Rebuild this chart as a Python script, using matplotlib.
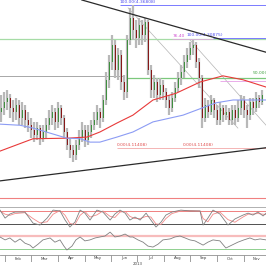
import matplotlib
matplotlib.use('Agg')
import matplotlib.pyplot as plt
from matplotlib.patches import Rectangle

# дневные свечи, цена
opens = [4.178, 4.185, 4.195, 4.203, 4.185, 4.178, 4.190, 4.167, 4.181, 4.163, 4.154, 4.146, 4.137, 4.149, 4.131,
         4.142, 4.154, 4.167, 4.178, 4.160, 4.185, 4.167, 4.142, 4.119, 4.110, 4.101, 4.119, 4.131, 4.146, 4.128,
         4.142, 4.154, 4.163, 4.178, 4.167, 4.199, 4.235, 4.267, 4.297, 4.252, 4.279, 4.231, 4.213, 4.306, 4.345,
         4.324, 4.309, 4.333, 4.315, 4.338, 4.252, 4.217, 4.231, 4.208, 4.226, 4.213, 4.199, 4.185, 4.203, 4.220,
         4.238, 4.249, 4.267, 4.279, 4.292, 4.297, 4.267, 4.238, 4.167, 4.190, 4.178, 4.199, 4.181, 4.163, 4.185,
         4.172, 4.178, 4.163, 4.181, 4.167, 4.185, 4.199, 4.181, 4.172, 4.195, 4.185, 4.203, 4.195]
highs = [4.208, 4.213, 4.217, 4.210, 4.199, 4.203, 4.199, 4.195, 4.190, 4.178, 4.167, 4.160, 4.160, 4.154, 4.154,
         4.167, 4.181, 4.190, 4.185, 4.195, 4.190, 4.172, 4.149, 4.131, 4.119, 4.128, 4.146, 4.160, 4.154, 4.154,
         4.163, 4.178, 4.190, 4.185, 4.208, 4.249, 4.279, 4.315, 4.306, 4.292, 4.288, 4.243, 4.315, 4.363, 4.368,
         4.341, 4.345, 4.341, 4.345, 4.341, 4.261, 4.243, 4.238, 4.238, 4.235, 4.220, 4.208, 4.213, 4.231, 4.249,
         4.261, 4.279, 4.292, 4.302, 4.306, 4.302, 4.274, 4.243, 4.203, 4.199, 4.208, 4.203, 4.190, 4.195, 4.190,
         4.190, 4.185, 4.190, 4.190, 4.199, 4.208, 4.206, 4.190, 4.203, 4.203, 4.213, 4.208, 4.217]
lows = [4.160, 4.172, 4.181, 4.167, 4.160, 4.163, 4.154, 4.154, 4.149, 4.142, 4.131, 4.124, 4.128, 4.119, 4.124,
        4.131, 4.146, 4.154, 4.146, 4.149, 4.154, 4.131, 4.110, 4.096, 4.089, 4.092, 4.110, 4.124, 4.115, 4.119,
        4.131, 4.146, 4.154, 4.149, 4.160, 4.190, 4.220, 4.252, 4.238, 4.235, 4.217, 4.199, 4.203, 4.297, 4.306,
        4.292, 4.297, 4.297, 4.302, 4.243, 4.203, 4.203, 4.195, 4.199, 4.199, 4.185, 4.172, 4.178, 4.195, 4.213,
        4.226, 4.238, 4.256, 4.270, 4.279, 4.256, 4.220, 4.149, 4.160, 4.167, 4.172, 4.167, 4.154, 4.154, 4.160,
        4.163, 4.154, 4.154, 4.154, 4.160, 4.172, 4.167, 4.149, 4.163, 4.172, 4.178, 4.185, 4.190]
closes = [4.185, 4.195, 4.203, 4.185, 4.178, 4.190, 4.167, 4.181, 4.163, 4.154, 4.146, 4.137, 4.149, 4.131, 4.142,
          4.154, 4.167, 4.178, 4.160, 4.185, 4.167, 4.142, 4.119, 4.110, 4.101, 4.119, 4.131, 4.146, 4.128, 4.142,
          4.154, 4.163, 4.178, 4.167, 4.199, 4.235, 4.267, 4.297, 4.252, 4.279, 4.231, 4.213, 4.306, 4.345, 4.324,
          4.309, 4.333, 4.315, 4.338, 4.252, 4.217, 4.231, 4.208, 4.226, 4.213, 4.199, 4.185, 4.203, 4.220, 4.238,
          4.249, 4.267, 4.279, 4.292, 4.297, 4.267, 4.238, 4.167, 4.190, 4.178, 4.199, 4.181, 4.163, 4.185, 4.172,
          4.178, 4.163, 4.181, 4.167, 4.185, 4.199, 4.181, 4.172, 4.195, 4.185, 4.203, 4.195, 4.208]

# скользящие средние (номер свечи, цена)
ma_red_x = [-0.5, 10.5, 21.8, 28.5, 32.8, 38.5, 43.8, 50.5, 58.2, 66.2, 73.8, 80.5, 88.2]
ma_red = [4.108, 4.130, 4.131, 4.133, 4.142, 4.158, 4.172, 4.199, 4.211, 4.231, 4.242, 4.235, 4.222]
ma_blue_x = [-0.5, 6.2, 10.5, 16.2, 21.8, 26.2, 29.5, 32.8, 38.5, 43.8, 50.5, 60.5, 71.5, 77.2, 88.2]
ma_blue = [4.156, 4.154, 4.149, 4.140, 4.131, 4.130, 4.124, 4.124, 4.133, 4.142, 4.160, 4.172, 4.194, 4.199, 4.199]

# уровни Фибоначчи
fib_hi1 = 4.36808
fib_hi2 = 4.30875
fib_lo = 4.11408
fib_764 = 4.3081
fib_50 = 4.24108

# стохастик
st_x = [-0.5, 1.2, 2.8, 4.5, 7.8, 10.5, 12.8, 15.2, 17.2, 19.5, 21.2, 22.8, 24.5, 26.2, 27.8, 29.5, 31.8, 33.8,
        36.2, 37.8, 39.5, 41.2, 42.8, 44.5, 46.2, 48.2, 49.8, 51.5, 53.2, 54.8, 56.8, 59.8, 62.8, 66.2, 67.2, 68.8,
        70.5, 72.8, 75.5, 77.8, 80.5, 82.2, 83.8, 85.5, 87.2, 88.2]
st_k = [84, 47, 66, 75, 75, 24, 15, 47, 84, 80, 38, 6, 29, 84, 70, 38, 84, 75, 38, 66, 84, 70, 38, 52, 38, 70,
        38, 6, 29, 61, 75, 84, 80, 80, 15, 47, 84, 66, 15, 43, 61, 70, 61, 75, 57, 70]
st_d = [80, 65, 60, 68, 72, 45, 25, 30, 65, 82, 60, 22, 18, 60, 78, 52, 62, 80, 55, 50, 75, 78, 55, 45, 45, 55,
        52, 20, 18, 45, 68, 80, 82, 80, 45, 30, 65, 75, 40, 28, 52, 65, 66, 68, 65, 64]

# RSI
rsi_x = [-0.5, 1.2, 2.8, 4.5, 6.2, 7.8, 9.5, 10.5, 12.2, 13.8, 16.2, 17.8, 19.5, 20.8, 21.8, 23.5, 24.8, 26.2,
         27.8, 29.5, 31.2, 32.8, 34.5, 36.2, 37.8, 39.5, 41.2, 42.8, 43.8, 45.5, 47.2, 48.8, 50.5, 52.2, 53.8,
         56.2, 57.8, 59.5, 61.2, 62.8, 64.5, 67.2, 68.8, 70.5, 72.8, 74.8, 76.8, 78.8, 80.8, 82.8, 84.5, 86.2, 88.2]
rsi = [67, 58, 64, 51, 61, 48, 42, 33, 45, 58, 64, 51, 58, 39, 27, 39, 58, 67, 55, 58, 64, 67, 70, 82, 67, 70,
       76, 67, 67, 58, 51, 39, 36, 45, 58, 61, 67, 70, 64, 58, 55, 42, 51, 58, 55, 33, 42, 51, 58, 64, 58, 61, 58]

# месяцы
month_pos = [1.2, 10.0, 18.8, 27.7, 36.5, 45.3, 54.2, 63.0, 71.8, 80.7]
month_names = ['Feb', 'Mar', 'Apr', 'May', 'Jun', 'Jul', 'Aug', 'Sep', 'Oct', 'Nov']
year_label = '2013'

H = 266.0
fig = plt.figure(figsize=(2.66, 2.66), dpi=100)


def add_panel(top, bottom):
    a = fig.add_axes([0, 1 - bottom / H, 1, (bottom - top) / H])
    a.set_xlim(-0.5, 88.17)
    a.axis('off')
    return a


ax = add_panel(0, 202)
ax.set_ylim(4.0174, 4.377)

# свечи
for i in range(len(closes)):
    ax.vlines(i, lows[i], highs[i], color='#b8b8b8', lw=1.6, zorder=3)
    up = closes[i] >= opens[i]
    b0 = min(opens[i], closes[i])
    b1 = max(opens[i], closes[i])
    ax.add_patch(Rectangle((i - 0.2, b0), 0.4, max(b1 - b0, 0.001),
                           facecolor='#3f8f3f' if up else '#871818', edgecolor='none', zorder=4))

ax.plot(ma_red_x, ma_red, color='#e83a3a', lw=0.8, zorder=5)
ax.plot(ma_blue_x, ma_blue, color='#8c9cf4', lw=0.8, zorder=5)

# трендовые линии
ax.plot([26.8, 88.2], [4.377, 4.284], color='#2a2a2a', lw=0.9, zorder=6)
ax.plot([-0.5, 88.2], [4.055, 4.114], color='#2a2a2a', lw=0.9, zorder=6)
ax.plot([42.2, 78.8], [4.363, 4.149], color='#b4b4b4', lw=0.5, zorder=2)
ax.plot([62.8, 88.2], [4.306, 4.154], color='#b4b4b4', lw=0.5, zorder=2)

# горизонтальные уровни
ax.hlines(fib_hi1, 39.5, 89, color='#7a7aff', lw=0.7, zorder=2)
ax.hlines(fib_764, -1, 89, color='#a6dca6', lw=0.9, zorder=2)
ax.hlines(fib_764, 57, 70.5, color='#e6a0e6', lw=0.5, zorder=2)
ax.hlines(fib_hi2, 70.5, 89, color='#7a7aff', lw=0.7, zorder=2)
ax.hlines(4.242, -1, 41, color='#a8a8a8', lw=0.7, zorder=2)
ax.hlines(4.239, 42, 89, color='#7cc87c', lw=0.9, zorder=2)
ax.hlines(4.233, 73, 89, color='#e6a0e6', lw=0.6, zorder=2)
ax.hlines(fib_lo, 38.5, 89, color='#f4b4b4', lw=0.7, zorder=2)
ax.hlines(4.0246, -1, 89, color='#f08080', lw=0.8, zorder=2)

fs = 3.2
ax.text(39.5, fib_hi1 + 0.002, '100.00(%.5f)' % fib_hi1, color='#5050f0', fontsize=fs, va='bottom')
ax.text(57.2, fib_764 + 0.002, '76.40', color='#d050d0', fontsize=fs, va='bottom')
ax.text(61.8, fib_hi2 + 0.002, '100.00(%.5f)' % fib_hi2, color='#5050f0', fontsize=fs, va='bottom')
ax.text(83.8, fib_50 + 0.002, '50.00(%.5f)' % fib_50, color='#40a040', fontsize=fs, va='bottom')
ax.text(38.5, fib_lo + 0.002, '0.00(%.5f)' % fib_lo, color='#e05050', fontsize=fs, va='bottom')
ax.text(60.5, fib_lo + 0.002, '0.00(%.5f)' % fib_lo, color='#e05050', fontsize=fs, va='bottom')

# стохастик
axs = add_panel(205, 229)
axs.set_ylim(-3.2, 107.5)
axs.axhline(100, color='#b0b0b0', lw=0.7)
axs.axhline(80, color='#f08080', lw=0.7)
axs.axhline(20, color='#505050', lw=0.7)
axs.plot(st_x, st_d, color='#f08a8a', lw=0.6)
axs.plot(st_x, st_k, color='#808080', lw=0.6)

# RSI
axr = add_panel(230, 253)
axr.set_ylim(17.7, 88.5)
axr.axhline(70, color='#f7bcbc', lw=1.6)
axr.axhline(30, color='#8fd08f', lw=0.7)
axr.plot(rsi_x, rsi, color='#808080', lw=0.6)

# ось дат
axt = add_panel(255, 262)
axt.set_ylim(0, 1)
axt.axhline(1, color='#909090', lw=0.6)
axt.axhline(0, color='#909090', lw=0.6)
for k, m in enumerate(month_pos):
    axt.vlines(m, 0, 1, color='#909090', lw=0.6)
    nxt = month_pos[k + 1] if k + 1 < len(month_pos) else m + 8.8
    axt.text((m + nxt) / 2, 0.5, month_names[k], fontsize=2.8, ha='center', va='center', color='#404040')
fig.text(138 / H, 1 - 264 / H, year_label, fontsize=2.8, ha='center', va='center', color='#404040')

fig.savefig('out.png', dpi=100)
